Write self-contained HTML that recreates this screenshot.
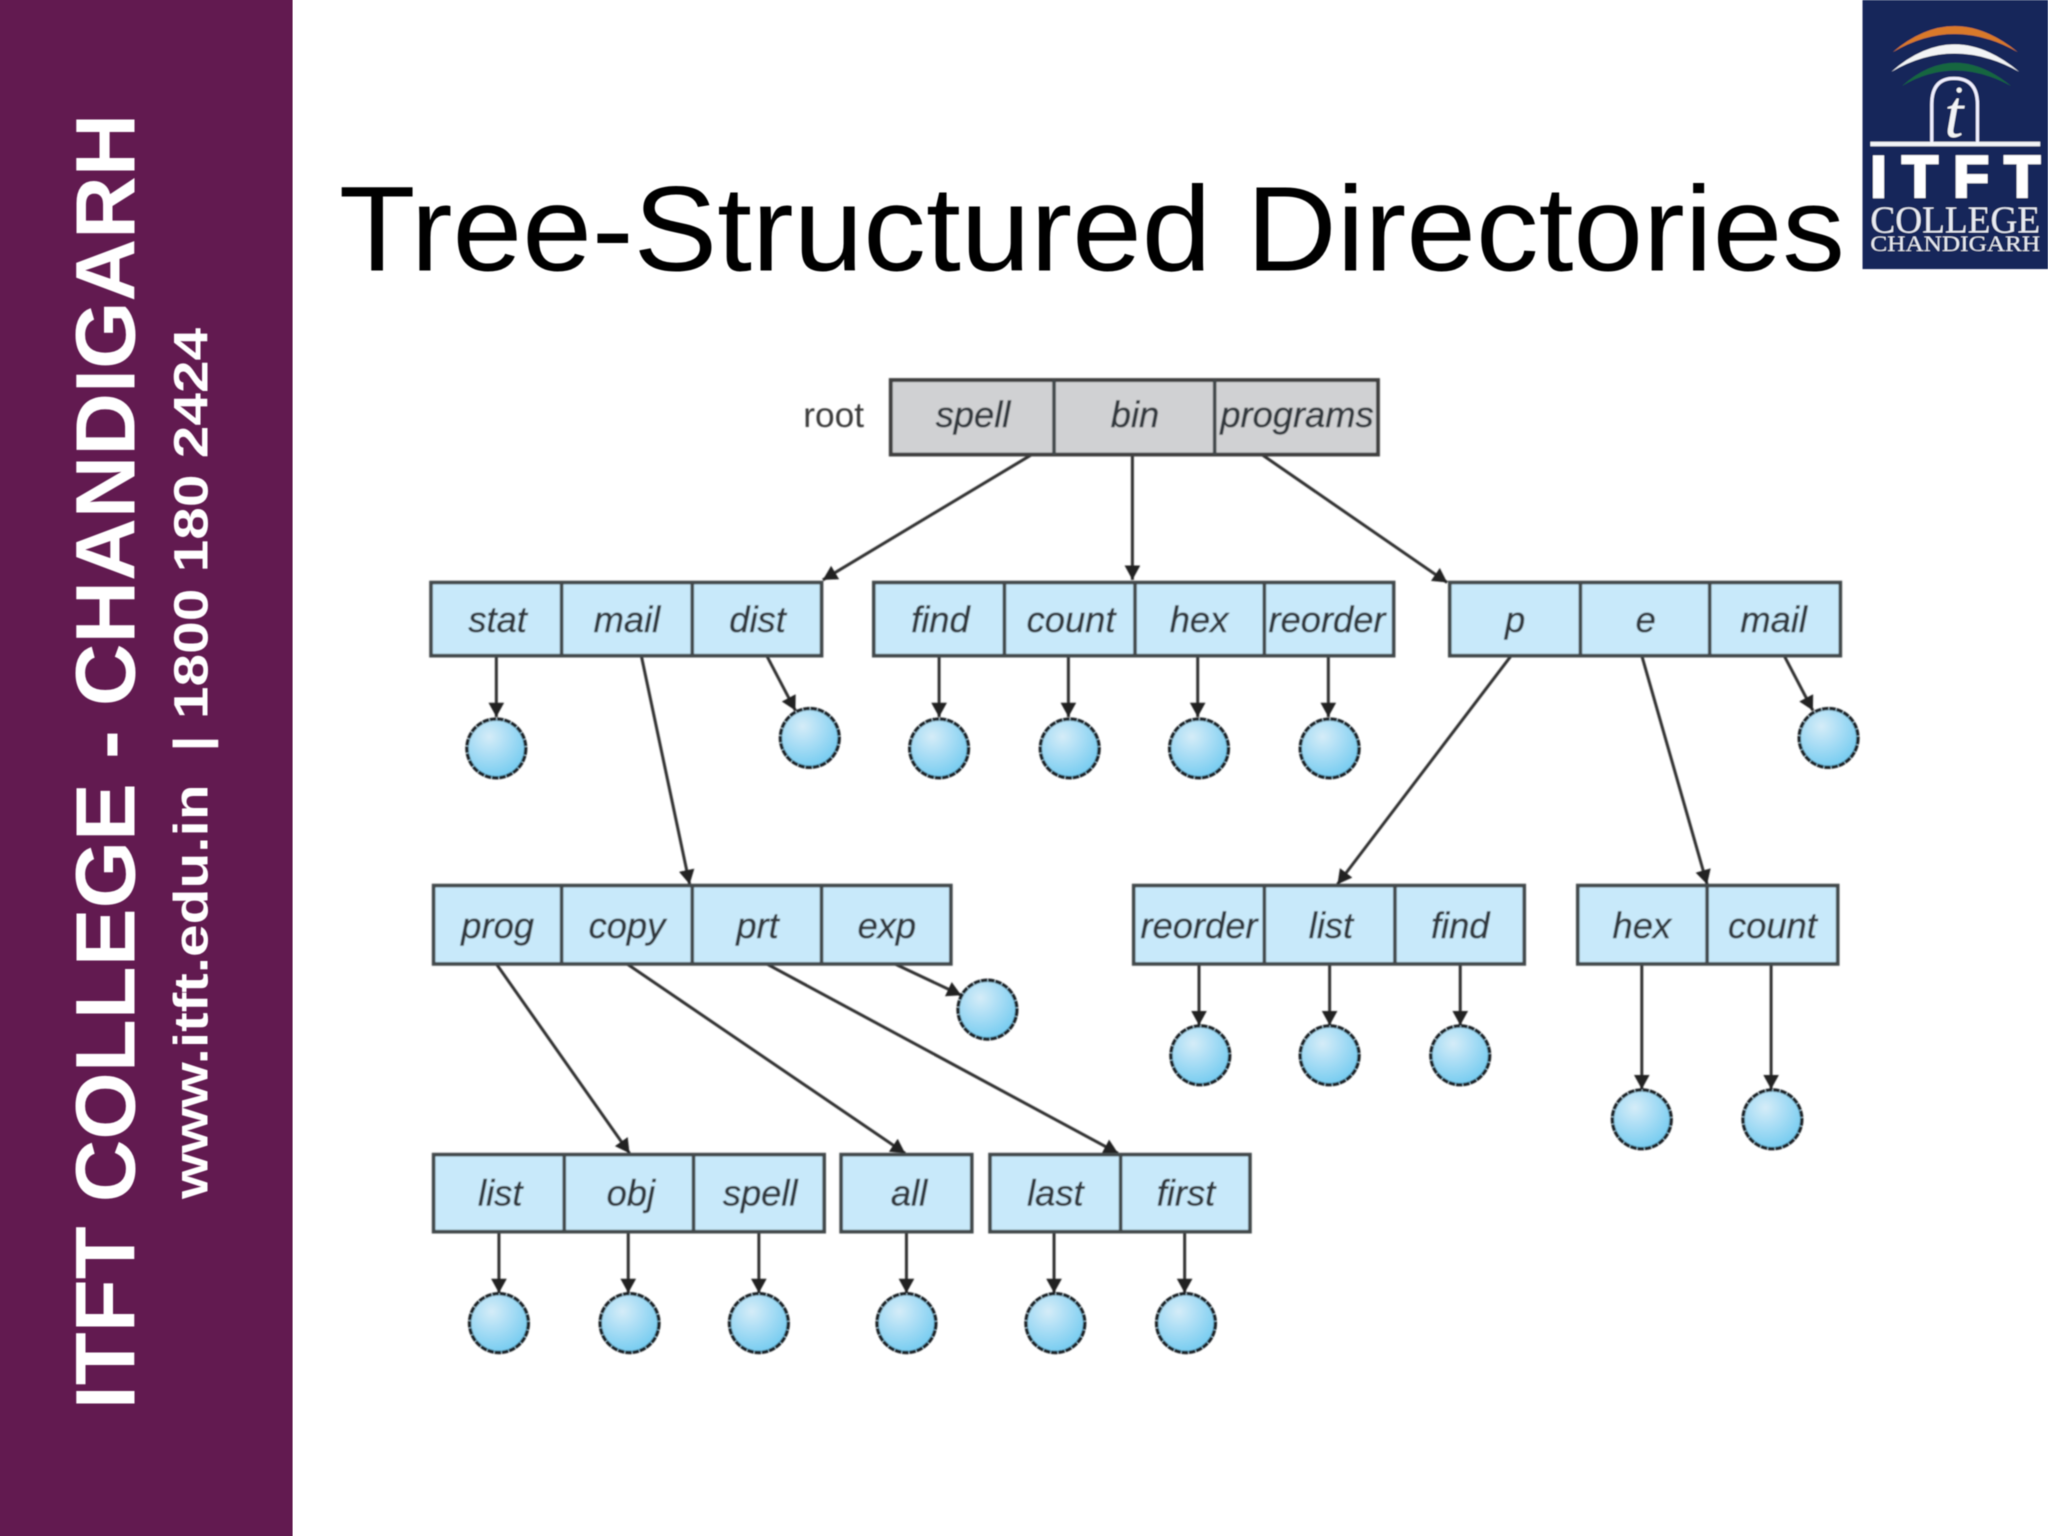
<!DOCTYPE html>
<html><head><meta charset="utf-8"><style>
html,body{margin:0;padding:0;background:#fff;width:2048px;height:1536px;overflow:hidden}
svg{display:block}
.s{font-family:"Liberation Sans",sans-serif}
.b{fill:#c8e9fa;stroke:#43484b;stroke-width:2.8}
.g{fill:#d0d1d3;stroke:#404040;stroke-width:3}
.d{stroke:#43484b;stroke-width:2.8}
.l{font-family:"Liberation Sans",sans-serif;font-style:italic;font-size:27.8px;fill:#33393e;stroke:#33393e;stroke-width:.35;text-anchor:middle}
.a{stroke:#333;stroke-width:2.3;fill:none;marker-end:url(#ah)}
.c{fill:url(#cg);stroke:#1a2328;stroke-width:2.6;stroke-dasharray:5 .6}
</style></head><body>
<svg width="2048" height="1536" viewBox="0 0 1568 1176" xmlns="http://www.w3.org/2000/svg">
<defs>
<marker id="ah" markerUnits="userSpaceOnUse" markerWidth="14" markerHeight="14" refX="11" refY="6" orient="auto"><path d="M0 0L11 6L0 12Z" fill="#222"/></marker>
<radialGradient id="cg" cx="38%" cy="30%" r="75%"><stop offset="0" stop-color="#d5ecf8"/><stop offset="1" stop-color="#71caf0"/></radialGradient>
<filter id="bl"><feGaussianBlur stdDeviation="0.6"/></filter>
<filter id="b2"><feGaussianBlur stdDeviation="0.4"/></filter>
</defs>
<rect width="1568" height="1176" fill="#fff"/>
<rect x="0" y="0" width="224" height="1176" fill="#621a50"/>
<g filter="url(#b2)">
<text class="s" transform="translate(103,1079) rotate(-90)" font-size="65" font-weight="bold" fill="#fff" textLength="992" lengthAdjust="spacingAndGlyphs">ITFT COLLEGE - CHANDIGARH</text>
<text class="s" transform="translate(159,918) rotate(-90)" font-size="37" font-weight="bold" fill="#fff" textLength="667" lengthAdjust="spacingAndGlyphs" xml:space="preserve">www.itft.edu.in  | 1800 180 2424</text>
<text class="s" x="259.500" y="207" font-size="92.500" fill="#000" textLength="1153" lengthAdjust="spacingAndGlyphs">Tree-Structured Directories</text>

<!-- logo -->
<rect x="1426" y="0" width="142" height="206" fill="#15265a"/>
<path d="M1449 40Q1496 0 1545 40Q1496 12 1449 40Z" fill="#d9792a"/>
<path d="M1448 55Q1496 13 1546 55Q1496 27 1448 55Z" fill="#f2f4f6"/>
<path d="M1456 66Q1496 30 1540 66Q1496 42 1456 66Z" fill="#12663f"/>
<path d="M1479 110V80Q1479 60 1496 60Q1514 60 1514 80V110" fill="none" stroke="#eef" stroke-width="2.5"/>
<text x="1496" y="105" font-family="Liberation Serif,serif" font-style="italic" font-size="52" fill="#f2f4f6" text-anchor="middle">t</text>
<circle cx="1500" cy="69" r="2" fill="#f2f4f6"/>
<rect x="1432" y="108.500" width="130" height="3.500" fill="#f2f4f6"/>
<text class="s" x="1432" y="151" font-size="45" font-weight="bold" fill="#fff" stroke="#fff" stroke-width="2" textLength="130" lengthAdjust="spacing">ITFT</text>
<text x="1432" y="178" font-family="Liberation Serif,serif" font-size="29" fill="#e8ebf2" textLength="130" lengthAdjust="spacingAndGlyphs">COLLEGE</text>
<text x="1432" y="192" font-family="Liberation Serif,serif" font-size="17" fill="#e8ebf2" textLength="130" lengthAdjust="spacingAndGlyphs">CHANDIGARH</text>
</g>

<g filter="url(#bl)">
<!-- arrows -->
<line class="a" x1="790" y1="348" x2="630" y2="444"/>
<line class="a" x1="867" y1="348" x2="867" y2="444"/>
<line class="a" x1="966" y1="348" x2="1108" y2="446"/>
<line class="a" x1="380" y1="502" x2="380" y2="549"/>
<line class="a" x1="491" y1="502" x2="528" y2="677"/>
<line class="a" x1="587" y1="502" x2="609" y2="544"/>
<line class="a" x1="719" y1="502" x2="719" y2="549"/>
<line class="a" x1="818" y1="502" x2="818" y2="549"/>
<line class="a" x1="917" y1="502" x2="917" y2="549"/>
<line class="a" x1="1017" y1="502" x2="1017" y2="549"/>
<line class="a" x1="1157" y1="502" x2="1024" y2="677"/>
<line class="a" x1="1257" y1="502" x2="1307" y2="677"/>
<line class="a" x1="1366" y1="502" x2="1388" y2="544"/>
<line class="a" x1="380" y1="738" x2="482" y2="883"/>
<line class="a" x1="480" y1="738" x2="693" y2="883"/>
<line class="a" x1="587" y1="738" x2="856" y2="883"/>
<line class="a" x1="685" y1="738" x2="736" y2="762"/>
<line class="a" x1="918" y1="738" x2="918" y2="785"/>
<line class="a" x1="1018" y1="738" x2="1018" y2="785"/>
<line class="a" x1="1118" y1="738" x2="1118" y2="785"/>
<line class="a" x1="1257" y1="738" x2="1257" y2="834"/>
<line class="a" x1="1356" y1="738" x2="1356" y2="834"/>
<line class="a" x1="382" y1="943" x2="382" y2="990"/>
<line class="a" x1="481" y1="943" x2="481" y2="990"/>
<line class="a" x1="581" y1="943" x2="581" y2="990"/>
<line class="a" x1="694" y1="943" x2="694" y2="990"/>
<line class="a" x1="807" y1="943" x2="807" y2="990"/>
<line class="a" x1="907" y1="943" x2="907" y2="990"/>

<!-- root -->
<text class="s" x="615" y="327" font-size="27" fill="#3a3a3a">root</text>
<rect class="g" x="682" y="291" width="373" height="57"/>
<line class="d" x1="807" y1="291" x2="807" y2="348"/><line class="d" x1="930" y1="291" x2="930" y2="348"/>
<text class="l" x="745" y="327">spell</text><text class="l" x="869" y="327">bin</text><text class="l" x="993" y="327">programs</text>

<!-- row 2 -->
<rect class="b" x="330" y="446" width="299" height="56"/>
<line class="d" x1="430" y1="446" x2="430" y2="502"/><line class="d" x1="530" y1="446" x2="530" y2="502"/>
<text class="l" x="381" y="484">stat</text><text class="l" x="480" y="484">mail</text><text class="l" x="580" y="484">dist</text>
<rect class="b" x="669" y="446" width="398" height="56"/>
<line class="d" x1="769" y1="446" x2="769" y2="502"/><line class="d" x1="869" y1="446" x2="869" y2="502"/><line class="d" x1="968" y1="446" x2="968" y2="502"/>
<text class="l" x="720" y="484">find</text><text class="l" x="820" y="484">count</text><text class="l" x="918" y="484">hex</text><text class="l" x="1016" y="484">reorder</text>
<rect class="b" x="1110" y="446" width="299" height="56"/>
<line class="d" x1="1210" y1="446" x2="1210" y2="502"/><line class="d" x1="1309" y1="446" x2="1309" y2="502"/>
<text class="l" x="1160" y="484">p</text><text class="l" x="1260" y="484">e</text><text class="l" x="1358" y="484">mail</text>

<!-- row 3 -->
<rect class="b" x="332" y="678" width="396" height="60"/>
<line class="d" x1="430" y1="678" x2="430" y2="738"/><line class="d" x1="530" y1="678" x2="530" y2="738"/><line class="d" x1="629" y1="678" x2="629" y2="738"/>
<text class="l" x="381" y="718">prog</text><text class="l" x="480" y="718">copy</text><text class="l" x="580" y="718">prt</text><text class="l" x="679" y="718">exp</text>
<rect class="b" x="868" y="678" width="299" height="60"/>
<line class="d" x1="968" y1="678" x2="968" y2="738"/><line class="d" x1="1068" y1="678" x2="1068" y2="738"/>
<text class="l" x="918" y="718">reorder</text><text class="l" x="1019" y="718">list</text><text class="l" x="1118" y="718">find</text>
<rect class="b" x="1208" y="678" width="199" height="60"/>
<line class="d" x1="1307" y1="678" x2="1307" y2="738"/>
<text class="l" x="1257" y="718">hex</text><text class="l" x="1357" y="718">count</text>

<!-- row 4 -->
<rect class="b" x="332" y="884" width="299" height="59"/>
<line class="d" x1="432" y1="884" x2="432" y2="943"/><line class="d" x1="531" y1="884" x2="531" y2="943"/>
<text class="l" x="383" y="923">list</text><text class="l" x="483" y="923">obj</text><text class="l" x="582" y="923">spell</text>
<rect class="b" x="644" y="884" width="100" height="59"/>
<text class="l" x="696" y="923">all</text>
<rect class="b" x="758" y="884" width="199" height="59"/>
<line class="d" x1="858" y1="884" x2="858" y2="943"/>
<text class="l" x="808" y="923">last</text><text class="l" x="908" y="923">first</text>

<!-- circles -->
<circle class="c" cx="380" cy="573" r="22.500"/><circle class="c" cx="620" cy="565" r="22.500"/>
<circle class="c" cx="719" cy="573" r="22.500"/><circle class="c" cx="819" cy="573" r="22.500"/>
<circle class="c" cx="918" cy="573" r="22.500"/><circle class="c" cx="1018" cy="573" r="22.500"/>
<circle class="c" cx="1400" cy="565" r="22.500"/>
<circle class="c" cx="756" cy="773" r="22.500"/>
<circle class="c" cx="919" cy="808" r="22.500"/><circle class="c" cx="1018" cy="808" r="22.500"/><circle class="c" cx="1118" cy="808" r="22.500"/>
<circle class="c" cx="1257" cy="857" r="22.500"/><circle class="c" cx="1357" cy="857" r="22.500"/>
<circle class="c" cx="382" cy="1013" r="22.500"/><circle class="c" cx="482" cy="1013" r="22.500"/><circle class="c" cx="581" cy="1013" r="22.500"/>
<circle class="c" cx="694" cy="1013" r="22.500"/><circle class="c" cx="808" cy="1013" r="22.500"/><circle class="c" cx="908" cy="1013" r="22.500"/>
</g>
</svg>
</body></html>
